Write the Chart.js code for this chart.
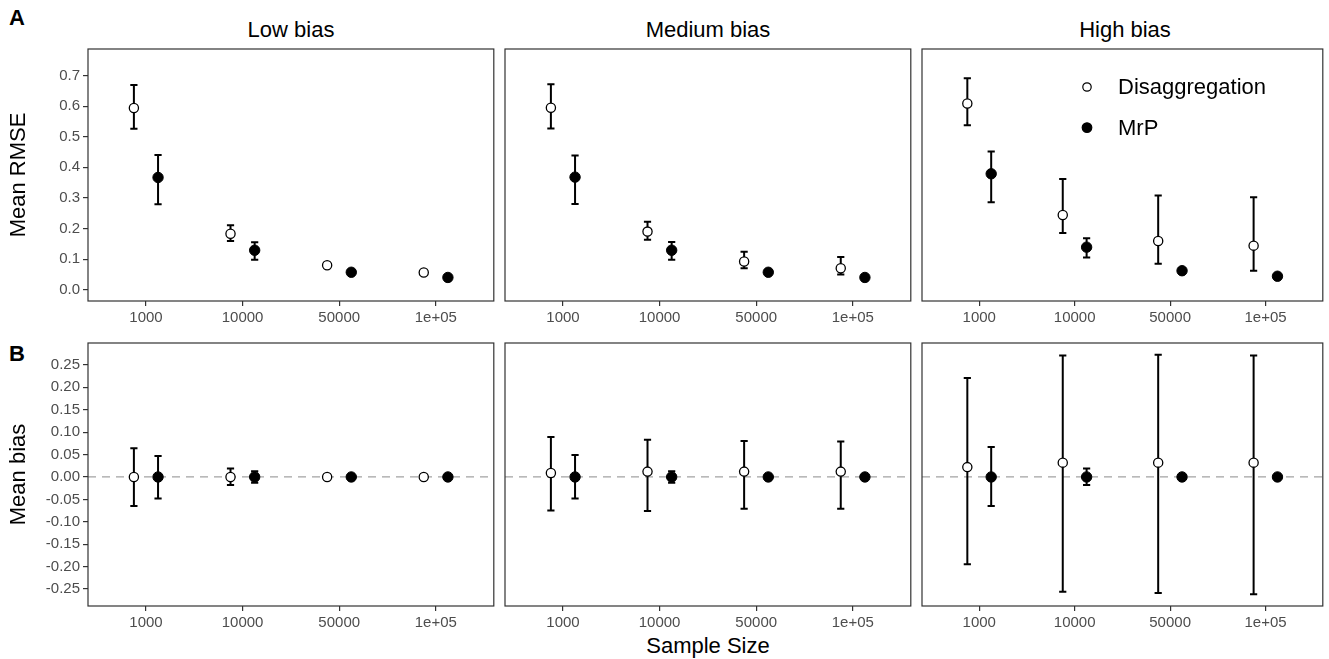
<!DOCTYPE html>
<html>
<head>
<meta charset="utf-8">
<script src="https://cdn.jsdelivr.net/npm/chart.js@4.4.1/dist/chart.umd.min.js"></script>
<style>
  body { margin: 0; background: #fff; width: 1329px; height: 659px; position: relative; overflow: hidden;
         font-family: "Liberation Sans", Arial, sans-serif; }
  canvas { position: absolute; }
  .lbl { position: absolute; font-size: 22px; line-height: 22px; color: #000; white-space: nowrap; }
  .tag { font-weight: bold; }
  .mid { text-align: center; }
</style>
</head>
<body>
<div class="lbl tag" style="left:9px;top:7px">A</div>
<div class="lbl tag" style="left:9px;top:343px">B</div>
<div class="lbl mid" style="left:88px;top:19px;width:406px">Low bias</div>
<div class="lbl mid" style="left:505px;top:19px;width:406px">Medium bias</div>
<div class="lbl mid" style="left:922px;top:19px;width:406px">High bias</div>
<div class="lbl mid" style="left:505px;top:635px;width:406px">Sample Size</div>

<canvas id="c00" width="500" height="296" style="left:0px;top:35px"></canvas>
<canvas id="c01" width="420" height="296" style="left:497px;top:35px"></canvas>
<canvas id="c02" width="415" height="296" style="left:914px;top:35px"></canvas>
<canvas id="c10" width="500" height="307" style="left:0px;top:329px"></canvas>
<canvas id="c11" width="420" height="307" style="left:497px;top:329px"></canvas>
<canvas id="c12" width="415" height="307" style="left:914px;top:329px"></canvas>

<script>
/* data */
const sampleSizes = ['1000', '10000', '50000', '1e+05'];
const seriesNames = ['Disaggregation', 'MrP'];
const rmseTicks = [0, 0.1, 0.2, 0.3, 0.4, 0.5, 0.6, 0.7];
const biasTicks = [-0.25, -0.2, -0.15, -0.1, -0.05, 0, 0.05, 0.1, 0.15, 0.2, 0.25];

// Mean RMSE (point, [lower, upper])
const rmseLowDis = [0.594, 0.183, 0.080, 0.056];
const rmseLowDisCI = [[0.526, 0.669], [0.159, 0.211], [0.075, 0.085], [0.052, 0.060]];
const rmseLowMrp = [0.367, 0.129, 0.057, 0.040];
const rmseLowMrpCI = [[0.279, 0.440], [0.098, 0.155], [0.052, 0.062], [0.037, 0.043]];
const rmseMedDis = [0.595, 0.190, 0.092, 0.070];
const rmseMedDisCI = [[0.527, 0.672], [0.163, 0.222], [0.070, 0.124], [0.050, 0.107]];
const rmseMedMrp = [0.368, 0.129, 0.057, 0.040];
const rmseMedMrpCI = [[0.280, 0.439], [0.098, 0.156], [0.051, 0.063], [0.036, 0.044]];
const rmseHighDis = [0.609, 0.244, 0.159, 0.144];
const rmseHighDisCI = [[0.538, 0.691], [0.185, 0.362], [0.085, 0.308], [0.062, 0.302]];
const rmseHighMrp = [0.379, 0.139, 0.062, 0.044];
const rmseHighMrpCI = [[0.286, 0.452], [0.105, 0.168], [0.053, 0.071], [0.039, 0.049]];

// Mean bias (point, [lower, upper])
const biasLowDis = [0, 0, 0, 0];
const biasLowDisCI = [[-0.065, 0.064], [-0.018, 0.019], [-0.004, 0.004], [-0.003, 0.003]];
const biasLowMrp = [0, 0, 0, 0];
const biasLowMrpCI = [[-0.048, 0.047], [-0.013, 0.013], [-0.003, 0.003], [-0.002, 0.002]];
const biasMedDis = [0.009, 0.012, 0.012, 0.012];
const biasMedDisCI = [[-0.075, 0.089], [-0.076, 0.083], [-0.071, 0.080], [-0.071, 0.079]];
const biasMedMrp = [0, 0, 0, 0];
const biasMedMrpCI = [[-0.048, 0.049], [-0.013, 0.013], [-0.003, 0.003], [-0.002, 0.002]];
const biasHighDis = [0.022, 0.032, 0.032, 0.032];
const biasHighDisCI = [[-0.195, 0.221], [-0.256, 0.271], [-0.259, 0.273], [-0.262, 0.271]];
const biasHighMrp = [0, 0, 0, 0];
const biasHighMrpCI = [[-0.065, 0.067], [-0.018, 0.019], [-0.003, 0.003], [-0.002, 0.002]];

/* styling */
const FONT = '"Liberation Sans", Arial, sans-serif';
const DODGE = 0.125;
const tickColor = '#4d4d4d';
const lineColor = '#333333';

// error bars, zero line, border, legend
const panelDecor = {
  id: 'panelDecor',
  beforeDatasetsDraw(chart, args, opts) {
    const { ctx, chartArea: a, scales: { x, y } } = chart;
    ctx.save();
    if (opts.zeroLine) {
      const y0 = y.getPixelForValue(0);
      ctx.strokeStyle = '#a3a3a3';
      ctx.lineWidth = 1.2;
      ctx.setLineDash([8, 6]);
      ctx.beginPath();
      ctx.moveTo(a.left, y0);
      ctx.lineTo(a.right, y0);
      ctx.stroke();
      ctx.setLineDash([]);
    }
    ctx.strokeStyle = '#000';
    ctx.lineWidth = 2;
    chart.data.datasets.forEach(ds => {
      ds.data.forEach(p => {
        const px = x.getPixelForValue(p.x);
        const lo = y.getPixelForValue(p.lo);
        const hi = y.getPixelForValue(p.hi);
        ctx.beginPath();
        ctx.moveTo(px, lo); ctx.lineTo(px, hi);
        ctx.moveTo(px - 3.6, lo); ctx.lineTo(px + 3.6, lo);
        ctx.moveTo(px - 3.6, hi); ctx.lineTo(px + 3.6, hi);
        ctx.stroke();
      });
    });
    ctx.restore();
  },
  afterDraw(chart, args, opts) {
    const { ctx, chartArea: a } = chart;
    ctx.save();
    ctx.strokeStyle = lineColor;
    ctx.lineWidth = 1.2;
    ctx.strokeRect(a.left, a.top, a.right - a.left, a.bottom - a.top);
    if (opts.legend) {
      ctx.font = '22px ' + FONT;
      ctx.textBaseline = 'middle';
      chart.data.datasets.forEach((ds, i) => {
        const cx = a.left + 165;
        const cy = a.top + 38 + i * 40.6;
        ctx.beginPath();
        ctx.arc(cx, cy, i === 0 ? 4.2 : 4.8, 0, Math.PI * 2);
        ctx.fillStyle = ds.pointBackgroundColor;
        ctx.fill();
        ctx.lineWidth = 1.2;
        ctx.strokeStyle = '#000';
        ctx.stroke();
        ctx.fillStyle = '#000';
        ctx.fillText(ds.label, a.left + 196, cy + 1);
      });
    }
    ctx.restore();
  }
};

function points(vals, ci, shift) {
  return vals.map((v, i) => ({ x: i + shift, y: v, lo: ci[i][0], hi: ci[i][1] }));
}

function makePanel(id, row, col, dis, disCI, mrp, mrpCI, legend) {
  const top = row === 0;
  const left = col === 0;
  const yTicks = top ? rmseTicks : biasTicks;
  new Chart(document.getElementById(id), {
    type: 'scatter',
    data: {
      datasets: [
        { label: seriesNames[0], data: points(dis, disCI, -DODGE), pointRadius: 4.6,
          pointBackgroundColor: '#fff', pointBorderColor: '#000', pointBorderWidth: 1.3 },
        { label: seriesNames[1], data: points(mrp, mrpCI, DODGE), pointRadius: 5.2,
          pointBackgroundColor: '#000', pointBorderColor: '#000', pointBorderWidth: 1 }
      ]
    },
    options: {
      responsive: false,
      animation: false,
      events: [],
      layout: { padding: { left: left ? 0 : 8, right: col === 2 ? 1 : 6, top: 14, bottom: 0 } },
      plugins: {
        legend: { display: false },
        tooltip: { enabled: false },
        panelDecor: { zeroLine: !top, legend: legend }
      },
      scales: {
        x: {
          type: 'linear', min: -0.6, max: 3.6,
          afterBuildTicks: s => { s.ticks = sampleSizes.map((_, i) => ({ value: i })); },
          afterFit: s => { s.height = 30; },
          ticks: { callback: v => sampleSizes[v], color: tickColor, font: { family: FONT, size: 15 },
                   padding: 3, maxRotation: 0, autoSkip: false },
          grid: { drawOnChartArea: false, tickLength: 5, color: lineColor, lineWidth: 1.2 },
          border: { display: false }
        },
        y: {
          type: 'linear', display: left,
          min: top ? -0.037 : -0.288, max: top ? 0.787 : 0.299,
          afterBuildTicks: s => { s.ticks = yTicks.map(v => ({ value: v })); },
          afterFit: s => { s.width = left ? 88 : 0; },
          ticks: { callback: v => v.toFixed(top ? 1 : 2), color: tickColor, font: { family: FONT, size: 15 },
                   padding: 3, autoSkip: false },
          grid: { drawOnChartArea: false, tickLength: 5, color: lineColor, lineWidth: 1.2 },
          border: { display: false },
          title: { display: true, text: top ? 'Mean RMSE' : 'Mean bias', color: '#000',
                   font: { family: FONT, size: 22 }, padding: { top: 6, bottom: 0 } }
        }
      }
    },
    plugins: [panelDecor]
  });
}

makePanel('c00', 0, 0, rmseLowDis, rmseLowDisCI, rmseLowMrp, rmseLowMrpCI, false);
makePanel('c01', 0, 1, rmseMedDis, rmseMedDisCI, rmseMedMrp, rmseMedMrpCI, false);
makePanel('c02', 0, 2, rmseHighDis, rmseHighDisCI, rmseHighMrp, rmseHighMrpCI, true);
makePanel('c10', 1, 0, biasLowDis, biasLowDisCI, biasLowMrp, biasLowMrpCI, false);
makePanel('c11', 1, 1, biasMedDis, biasMedDisCI, biasMedMrp, biasMedMrpCI, false);
makePanel('c12', 1, 2, biasHighDis, biasHighDisCI, biasHighMrp, biasHighMrpCI, false);
</script>
</body>
</html>
